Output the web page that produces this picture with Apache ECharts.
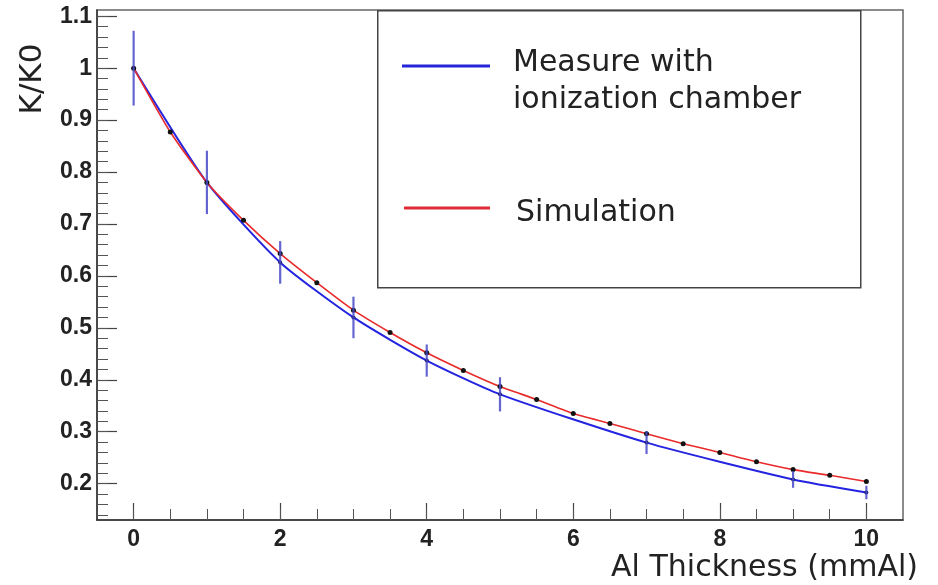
<!DOCTYPE html>
<html lang="en">
<head>
    <meta charset="UTF-8">
    <title>K/K0 vs Al thickness</title>
    <script src="https://cdn.jsdelivr.net/npm/echarts@6.0.0/dist/echarts.min.js"></script>
    <style>
        html, body { margin: 0; padding: 0; background: #fff; }
        #chart { width: 938px; height: 585px; }
    </style>
</head>
<body>
    <div id="chart"></div>
    <script>
    // measurement with ionization chamber (points + error bars)
    const measX = [0, 1, 2, 3, 4, 5, 7, 9, 10];
    const measY = [1.0, 0.78, 0.626, 0.52, 0.437, 0.372, 0.279, 0.208, 0.183];
    const measErr = [0.072, 0.061, 0.041, 0.04, 0.031, 0.033, 0.022, 0.016, 0.013];

    // simulation, every 0.5 mm
    const simX = [0, 0.5, 1, 1.5, 2, 2.5, 3, 3.5, 4, 4.5, 5, 5.5, 6, 6.5, 7, 7.5, 8, 8.5, 9, 9.5, 10];
    const simY = [1.0, 0.877, 0.78, 0.707, 0.643, 0.587, 0.534, 0.491, 0.452, 0.418, 0.387, 0.362, 0.335, 0.316, 0.296, 0.277, 0.26, 0.242, 0.227, 0.216, 0.204];

    // tick labels
    const xMajor = [0, 2, 4, 6, 8, 10];
    const yMajor = [0.2, 0.3, 0.4, 0.5, 0.6, 0.7, 0.8, 0.9, 1.0, 1.1];

    // minor ticks
    const xMinor = [];
    for (let i = 0; i <= 20; i++) xMinor.push(i * 0.5);
    const yMinor = [];
    for (let i = 7; i <= 55; i++) yMinor.push(+(i * 0.02).toFixed(2));

    const measData = measX.map((x, i) => [x, measY[i]]);
    const simData = simX.map((x, i) => [x, simY[i]]);
    const errData = measX.map((x, i) => [x, measY[i] - measErr[i], measY[i] + measErr[i]]);

    const labelFont = { fontFamily: 'Liberation Sans', fontWeight: 'bold', fontSize: 23, color: '#222' };
    const titleFont = 'DejaVu Sans';

    var myChart = echarts.init(document.getElementById('chart'));
    var option = {
        animation: false,
        grid: {
            left: 97, top: 10, right: 35, bottom: 65,
            show: true, borderColor: '#666', borderWidth: 1.5, backgroundColor: '#fff'
        },
        xAxis: [
            {
                type: 'value', min: -0.5, max: 10.5, position: 'bottom',
                axisLine: { show: true, onZero: false, lineStyle: { color: '#333', width: 1.5 } },
                axisTick: { show: true, inside: true, length: 17, customValues: xMajor, lineStyle: { color: '#444', width: 1.2 } },
                axisLabel: Object.assign({ customValues: xMajor, margin: 8 }, labelFont),
                splitLine: { show: false }
            },
            {
                type: 'value', min: -0.5, max: 10.5, position: 'bottom',
                axisLine: { show: false, onZero: false },
                axisTick: { show: true, inside: true, length: 11, customValues: xMinor, lineStyle: { color: '#555', width: 1 } },
                axisLabel: { show: false },
                splitLine: { show: false }
            }
        ],
        yAxis: [
            {
                type: 'value', min: 0.13, max: 1.112, position: 'left',
                axisLine: { show: true, onZero: false, lineStyle: { color: '#333', width: 1.5 } },
                axisTick: { show: true, inside: true, length: 20, customValues: yMajor, lineStyle: { color: '#444', width: 1.2 } },
                axisLabel: Object.assign({ customValues: yMajor, margin: 5 }, labelFont),
                splitLine: { show: false }
            },
            {
                type: 'value', min: 0.13, max: 1.112, position: 'left',
                axisLine: { show: false, onZero: false },
                axisTick: { show: true, inside: true, length: 11, customValues: yMinor, lineStyle: { color: '#555', width: 1 } },
                axisLabel: { show: false },
                splitLine: { show: false }
            }
        ],
        series: [
            {
                name: 'Measure with ionization chamber',
                type: 'line',
                data: measData,
                smooth: 0.2,
                symbol: 'circle',
                symbolSize: 4,
                itemStyle: { color: '#1a1a60' },
                lineStyle: { color: '#2424e0', width: 2 },
                z: 3
            },
            {
                name: 'Simulation',
                type: 'line',
                data: simData,
                smooth: 0.2,
                symbol: 'circle',
                symbolSize: 5,
                itemStyle: { color: '#111' },
                lineStyle: { color: '#e82a2a', width: 1.6 },
                z: 4
            },
            {
                name: 'error',
                type: 'custom',
                data: errData,
                renderItem: function (params, api) {
                    const lo = api.coord([api.value(0), api.value(1)]);
                    const hi = api.coord([api.value(0), api.value(2)]);
                    return {
                        type: 'line',
                        shape: { x1: lo[0], y1: lo[1], x2: hi[0], y2: hi[1] },
                        style: { stroke: '#4a4ac8', lineWidth: 2.2, opacity: 0.85 }
                    };
                },
                z: 5
            }
        ],
        graphic: [
            {
                type: 'rect', left: 377, top: 10, z: 20,
                shape: { width: 483, height: 277 },
                style: { fill: '#fff', stroke: '#444', lineWidth: 1.5 }
            },
            {
                type: 'line', z: 21,
                shape: { x1: 402, y1: 66, x2: 490, y2: 66 },
                style: { stroke: '#2424d8', lineWidth: 3 }
            },
            {
                type: 'line', z: 21,
                shape: { x1: 404, y1: 208, x2: 490, y2: 208 },
                style: { stroke: '#e02a35', lineWidth: 3 }
            },
            {
                type: 'text', x: 513, y: 63, z: 21,
                style: { text: 'Measure with', font: '30px "' + titleFont + '"', fill: '#222', verticalAlign: 'middle' }
            },
            {
                type: 'text', x: 513, y: 100, z: 21,
                style: { text: 'ionization chamber', font: '30px "' + titleFont + '"', fill: '#222', verticalAlign: 'middle' }
            },
            {
                type: 'text', x: 516, y: 213, z: 21,
                style: { text: 'Simulation', font: '30px "' + titleFont + '"', fill: '#222', verticalAlign: 'middle' }
            },
            {
                type: 'text', x: 918, y: 568, z: 21,
                style: { text: 'Al Thickness (mmAl)', font: '30px "' + titleFont + '"', fill: '#222', align: 'right', verticalAlign: 'middle' }
            },
            {
                type: 'text', x: 33, y: 79, z: 21, rotation: Math.PI / 2,
                style: { text: 'K/K0', font: '31px "' + titleFont + '"', fill: '#222', align: 'center', verticalAlign: 'middle' }
            }
        ]
    };
    myChart.setOption(option);
    </script>
</body>
</html>
